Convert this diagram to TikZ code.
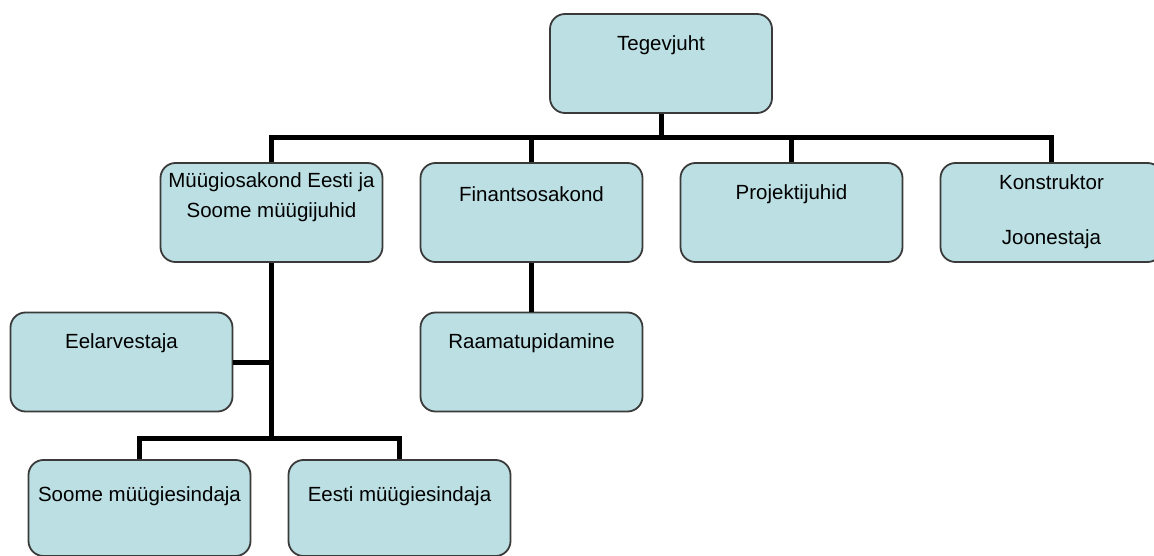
\documentclass[tikz,border=0pt]{standalone}
\usepackage{fontspec}
\setmainfont{Liberation Sans}
\definecolor{boxfill}{HTML}{BBDFE3}
\definecolor{boxline}{HTML}{3A3A3A}
\tikzset{
  orgbox/.style={draw=boxline, line width=1.8pt, fill=boxfill, rounded corners=15pt,
    minimum width=222pt, minimum height=99pt, inner sep=0pt},
  lowbox/.style={orgbox, minimum height=96pt},
  lbl/.style={inner sep=0pt, font=\fontsize{20.5}{23}\selectfont, text=black},
  conn/.style={line width=5pt, black}
}
\begin{document}
\begin{tikzpicture}[x=1pt, y=-1pt]
\useasboundingbox (0,0) rectangle (1154,556);
% boxes
\node[orgbox] (T) at (661,63.5) {};
\node[orgbox] (M) at (271.5,212.5) {};
\node[orgbox] (F) at (531.5,212.5) {};
\node[orgbox] (P) at (791.5,212.5) {};
\node[orgbox] (K) at (1051.5,212.5) {};
\node[orgbox] (E) at (121.5,362) {};
\node[orgbox] (R) at (531.5,362) {};
\node[lowbox] (S) at (139.5,508) {};
\node[lowbox] (Es) at (399.5,508) {};
% labels
\node[lbl] (tT) at ([yshift=-32pt]T.north) {Tegevjuht};
\node[lbl] (tM1) at ([yshift=-20pt]M.north) {Müügiosakond Eesti ja};
\node[lbl] (tM2) at ([yshift=-50pt]M.north) {Soome müügijuhid};
\node[lbl] (tF) at ([yshift=-32pt]F.north) {Finantsosakond};
\node[lbl] (tP) at ([yshift=-32pt]P.north) {Projektijuhid};
\node[lbl] (tK1) at ([yshift=-20pt]K.north) {Konstruktor};
\node[lbl] (tK2) at ([yshift=-77pt]K.north) {Joonestaja};
\node[lbl] (tE) at ([yshift=-32pt]E.north) {Eelarvestaja};
\node[lbl] (tR) at ([yshift=-32pt]R.north) {Raamatupidamine};
\node[lbl] (tS) at ([yshift=-37pt]S.north) {Soome müügiesindaja};
\node[lbl] (tEs) at ([yshift=-37pt]Es.north) {Eesti müügiesindaja};
% connectors
\coordinate (bus) at (661,138);
\coordinate (sbus) at (271.5,438);
\draw[conn] (T.south) -- (bus);
\draw[conn] (M.north) |- (bus) -| (K.north);
\draw[conn] (F.north) -- (F.north |- bus);
\draw[conn] (P.north) -- (P.north |- bus);
\draw[conn] (M.south) -- (sbus);
\draw[conn] (E.east) -- (E.east -| M.south);
\draw[conn] (S.north) |- (sbus) -| (Es.north);
\draw[conn] (F.south) -- (R.north);
\end{tikzpicture}
\end{document}
